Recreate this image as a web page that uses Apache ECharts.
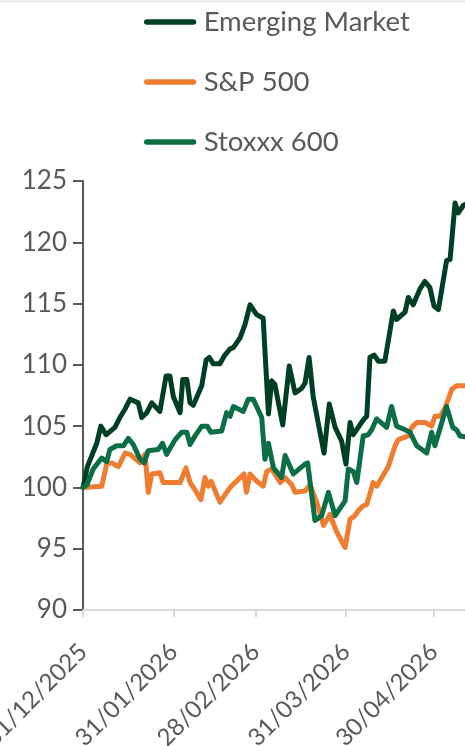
<!DOCTYPE html>
<html>
<head>
<meta charset="utf-8">
<script src="https://cdn.jsdelivr.net/npm/echarts@6/dist/echarts.min.js"></script>
<style>
  html, body { margin: 0; padding: 0; background: #fff; }
  #chart { width: 465px; height: 746px; }
</style>
</head>
<body>
<div id="chart"></div>
<script>
// x positions are days since 31/12/2025
const tickDays = [0, 31, 59, 90, 120];
const tickLabels = ['31/12/2025', '31/01/2026', '28/02/2026', '31/03/2026', '30/04/2026'];
const yTicks = [90, 95, 100, 105, 110, 115, 120, 125];

const emDays = [0, 1.5, 4.7, 6.1, 7.9, 10.9, 12.6, 14.4, 16.1, 18.9, 20.1, 21.8, 23.5, 26.3, 28.4, 29.7, 30.9, 33.2, 34.1, 35.5, 36.6, 37.7, 40.6, 42.1, 43.2, 44.5, 46.8, 48.5, 50.3, 51.4, 53.7, 55.4, 57.1, 58.2, 59.4, 61.6, 63.4, 64.5, 65.6, 68.3, 70.5, 72.5, 74.8, 75.9, 77.3, 78.7, 82.4, 84.2, 86.2, 88.4, 89.9, 91.3, 92.4, 95.8, 97.0, 98.1, 99.5, 101.0, 103.2, 106.1, 107.2, 110.1, 111.2, 112.9, 115.2, 116.9, 118.6, 120.0, 121.5, 124.3, 125.5, 127.2, 128.3, 130.0, 131.5];
const emValues = [100, 101.7, 103.6, 105.0, 104.3, 104.9, 105.7, 106.4, 107.2, 106.9, 105.7, 106.1, 106.9, 106.2, 109.1, 109.1, 107.4, 106.1, 108.8, 108.8, 106.9, 106.7, 108.3, 110.4, 110.6, 110.1, 110.1, 110.8, 111.3, 111.4, 112.2, 113.3, 114.9, 114.5, 114.1, 113.8, 106.0, 108.7, 108.4, 105.1, 109.9, 107.7, 108.1, 108.5, 110.6, 107.4, 102.8, 106.8, 104.9, 103.8, 101.9, 105.3, 104.3, 105.5, 105.8, 110.6, 110.8, 110.3, 110.3, 114.4, 113.7, 114.3, 115.5, 114.9, 116.2, 116.8, 116.3, 114.8, 114.5, 118.5, 118.6, 123.2, 122.4, 123.0, 123.2];

const spDays = [0, 6.4, 8.1, 9.8, 12.1, 14.4, 16.1, 19.5, 21.2, 22.3, 23.5, 26.3, 27.4, 33.2, 35.2, 36.6, 38.3, 40.3, 41.7, 42.8, 43.8, 46.8, 50.3, 53.7, 55.0, 55.9, 57.1, 59.4, 61.6, 62.8, 64.5, 67.4, 69.1, 71.4, 72.5, 75.9, 77.6, 79.9, 82.2, 84.4, 86.7, 89.6, 91.3, 93.0, 94.1, 95.8, 97.0, 99.2, 100.4, 104.4, 106.7, 107.8, 111.2, 112.4, 114.1, 116.9, 119.2, 120.3, 122.1, 123.8, 126.1, 127.7, 131.5];
const spValues = [100, 100.1, 101.9, 102.0, 101.7, 102.8, 102.7, 102.0, 102.7, 99.6, 101.1, 101.2, 100.4, 100.4, 101.6, 100.4, 99.8, 99.0, 100.8, 100.1, 100.5, 98.8, 100.0, 100.8, 101.1, 99.6, 101.1, 100.5, 100.1, 101.3, 101.5, 100.4, 100.8, 100.2, 99.6, 99.7, 100.2, 98.8, 96.9, 97.8, 96.4, 95.1, 97.4, 97.7, 98.1, 98.5, 98.6, 100.4, 100.1, 101.7, 103.4, 103.9, 104.2, 104.9, 105.3, 105.3, 105.0, 105.8, 105.8, 106.5, 108.0, 108.3, 108.3];

const sxDays = [0, 1.3, 3.5, 6.4, 8.1, 9.2, 11.5, 13.8, 15.5, 17.2, 19.5, 20.9, 22.3, 25.7, 27.2, 28.6, 31.5, 33.7, 35.5, 36.6, 38.3, 40.6, 42.5, 43.7, 47.4, 49.1, 50.3, 51.4, 54.8, 56.5, 58.2, 61.1, 62.2, 63.4, 65.1, 67.9, 69.1, 71.9, 75.9, 76.8, 79.3, 81.6, 83.9, 86.2, 89.6, 90.7, 92.4, 93.6, 95.8, 97.5, 98.7, 100.4, 103.8, 105.5, 107.2, 110.1, 111.8, 114.1, 117.5, 119.2, 120.3, 124.3, 126.4, 127.7, 128.9, 131.5];
const sxValues = [100, 100.2, 101.5, 102.4, 102.1, 103.1, 103.4, 103.4, 104.0, 103.5, 102.3, 102.0, 103.0, 103.1, 103.6, 102.7, 103.9, 104.5, 104.5, 103.5, 104.2, 105.0, 105.0, 104.5, 104.6, 106.1, 105.8, 106.6, 106.2, 107.2, 107.2, 105.7, 102.3, 103.6, 101.6, 100.8, 102.6, 101.1, 101.9, 102.0, 97.3, 97.7, 99.6, 97.7, 98.9, 101.5, 101.3, 100.4, 104.2, 104.3, 104.7, 105.6, 104.9, 106.6, 105.0, 104.7, 104.5, 103.4, 102.8, 104.5, 103.4, 106.6, 104.9, 104.7, 104.2, 104.1];

function pairs(days, values) {
  return days.map((d, i) => [d, values[i]]);
}

const chartDom = document.getElementById('chart');
const myChart = echarts.init(chartDom);
const textColor = '#595959';
const font = 'Lato, "Noto Sans", sans-serif';
// thick line with round ends for the legend
const legendIcon = 'path://M3,0 L54,0 A3,3 0 0 1 54,6 L3,6 A3,3 0 0 1 3,0 Z';

const option = {
  animation: false,
  backgroundColor: '#fff',
  graphic: [{
    type: 'rect',
    shape: { x: 0, y: 0, width: 465, height: 3 },
    style: { fill: '#f0f0f0' }
  }],
  legend: {
    orient: 'vertical',
    left: 144,
    top: 8,
    padding: 0,
    itemGap: 32,
    itemWidth: 57,
    itemHeight: 5.5,
    icon: legendIcon,
    data: ['Emerging Market', 'S&P 500', 'Stoxxx 600'],
    textStyle: { color: textColor, fontSize: 27.5, fontFamily: font, padding: [0, 0, 0, 0] }
  },
  grid: { left: 83, right: 0, top: 181, bottom: 136, outerBoundsMode: 'none' },
  xAxis: {
    type: 'value',
    min: 0,
    max: 130.6,
    axisLine: { lineStyle: { color: '#d9d9d9', width: 2 } },
    axisTick: { show: true, customValues: tickDays, length: 7, lineStyle: { color: '#d9d9d9', width: 2 } },
    splitLine: { show: false },
    axisLabel: {
      customValues: tickDays,
      rotate: 45,
      margin: 38,
      color: textColor,
      fontSize: 24,
      fontFamily: font,
      formatter: v => tickLabels[tickDays.indexOf(v)]
    }
  },
  yAxis: {
    type: 'value',
    min: yTicks[0],
    max: yTicks[yTicks.length - 1],
    interval: 5,
    axisLine: { show: true, lineStyle: { color: '#595959', width: 2 } },
    axisTick: { show: true, length: 10, lineStyle: { color: '#595959', width: 2 } },
    splitLine: { show: false },
    axisLabel: { color: textColor, fontSize: 26, fontFamily: font, margin: 16 }
  },
  series: [
    {
      name: 'Emerging Market',
      type: 'line',
      symbol: 'none',
      color: '#003f24',
      lineStyle: { width: 5, join: 'round', cap: 'round' },
      data: pairs(emDays, emValues)
    },
    {
      name: 'S&P 500',
      type: 'line',
      symbol: 'none',
      color: '#ee7d31',
      lineStyle: { width: 5, join: 'round', cap: 'round' },
      data: pairs(spDays, spValues)
    },
    {
      name: 'Stoxxx 600',
      type: 'line',
      symbol: 'none',
      color: '#0c6e45',
      lineStyle: { width: 5, join: 'round', cap: 'round' },
      data: pairs(sxDays, sxValues)
    }
  ]
};

myChart.setOption(option);
</script>
</body>
</html>
